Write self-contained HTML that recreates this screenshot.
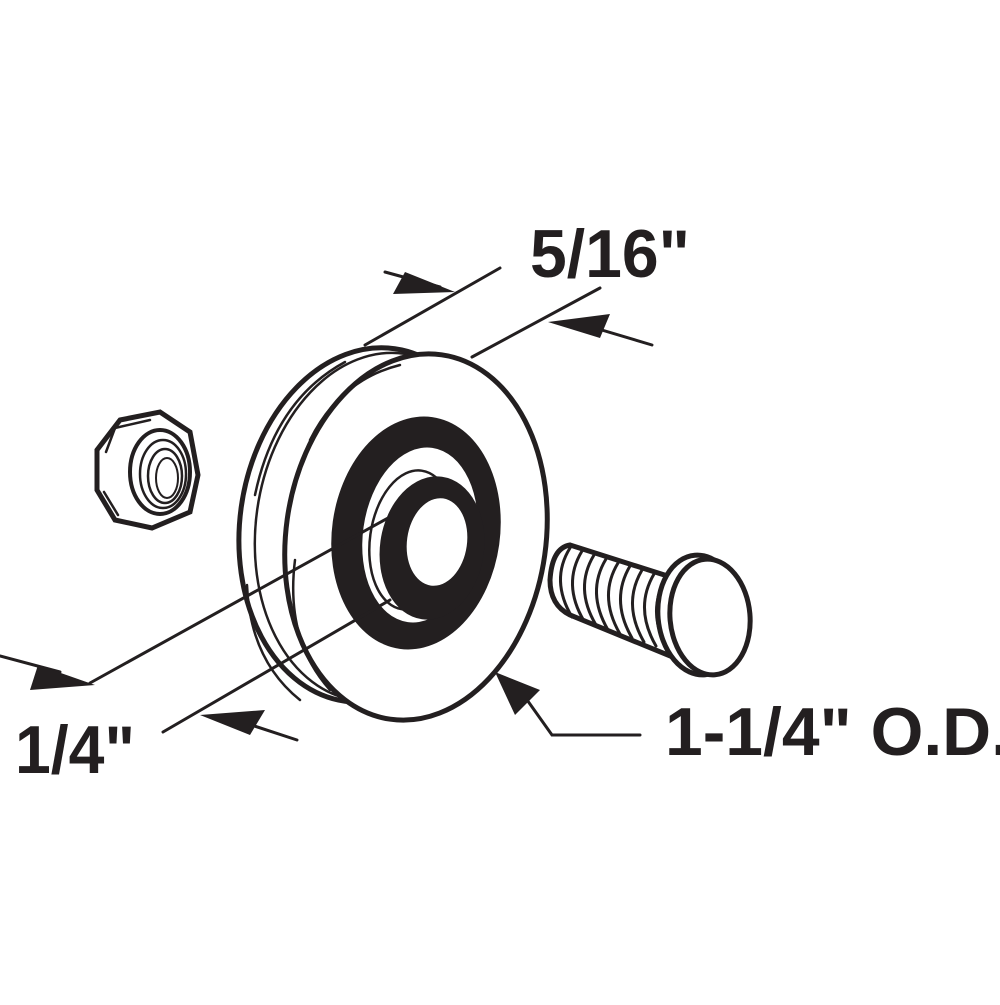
<!DOCTYPE html>
<html><head><style>html,body{margin:0;padding:0;background:#fff}</style></head>
<body>
<svg width="1000" height="1000" viewBox="0 0 1000 1000" xmlns="http://www.w3.org/2000/svg">
<rect width="1000" height="1000" fill="#fff"/>
<g fill="none" stroke="#231f20" stroke-linecap="round">
<ellipse cx="370" cy="525" rx="130" ry="178" stroke-width="5" transform="rotate(8 370 525)"/>
<ellipse cx="380" cy="527" rx="124" ry="175" stroke-width="2.5" transform="rotate(8 380 527)"/>
<ellipse cx="416" cy="537" rx="130" ry="184" fill="#fff" stroke-width="5" transform="rotate(8 416 537)"/>
<path d="M310 440 Q340 380 400 365" stroke-width="2.5"/>
<path d="M255 495 Q275 400 345 362" stroke-width="2.5"/>
<path d="M295 560 Q285 640 330 690" stroke-width="2.5"/>
<path d="M247 585 Q250 660 300 700" stroke-width="2.5"/>
<ellipse cx="416" cy="533" rx="84" ry="117" fill="#231f20" stroke="none" transform="rotate(8 416 533)"/>
<ellipse cx="420" cy="535" rx="57" ry="88" fill="#fff" stroke="none" transform="rotate(8 420 535)"/>
<ellipse cx="412" cy="540" rx="42" ry="70" stroke-width="2.5" transform="rotate(8 412 540)"/>
<ellipse cx="432" cy="548" rx="52" ry="72" fill="#231f20" stroke="none" transform="rotate(8 432 548)"/>
<ellipse cx="437" cy="542" rx="30" ry="44" fill="#fff" stroke="none" transform="rotate(8 437 542)"/>
<line x1="365" y1="345" x2="500" y2="268" stroke-width="3"/>
<line x1="472" y1="357" x2="600" y2="288" stroke-width="3"/>
<line x1="385" y1="272" x2="440" y2="287" stroke-width="3"/>
<line x1="585" y1="325" x2="652" y2="345" stroke-width="3"/>
<line x1="90" y1="683" x2="388" y2="518" stroke-width="3"/>
<line x1="163" y1="732" x2="390" y2="600" stroke-width="3"/>
<line x1="0" y1="656" x2="60" y2="672" stroke-width="3"/>
<line x1="230" y1="718" x2="297" y2="740" stroke-width="3"/>
<polyline points="520,690 552,735 640,735" stroke-width="3"/>
<polygon points="120,420 160,412 190,432 198,475 190,512 152,528 115,520 97,490 97,450" fill="#fff" stroke-width="5"/>
<polyline points="106,452 115,428 150,420" stroke-width="2.5"/>
<line x1="104" y1="492" x2="118" y2="515" stroke-width="2.5"/>
<ellipse cx="160" cy="472" rx="30" ry="42" stroke-width="4"/>
<ellipse cx="163" cy="474" rx="23" ry="34" stroke-width="2.5"/>
<ellipse cx="165" cy="476" rx="17" ry="27" stroke-width="2.5"/>
<ellipse cx="167" cy="478" rx="11" ry="20" stroke-width="2"/>
<path d="M570 545 L680 580 L680 660 L570 615 Q550 605 550 580 Q552 548 570 545 Z" fill="#fff" stroke-width="5"/>
<g stroke-width="3">
<path d="M570 548 Q550 580 572 617"/><path d="M582 551 Q562 584 584 621"/><path d="M594 555 Q574 588 596 625"/>
<path d="M606 559 Q586 592 608 630"/><path d="M618 563 Q598 596 620 634"/><path d="M630 566 Q610 600 632 638"/>
<path d="M642 570 Q622 604 644 642"/><path d="M654 574 Q634 608 656 646"/><path d="M666 578 Q646 612 668 650"/>
</g>
<ellipse cx="700" cy="615" rx="42" ry="60" fill="#fff" stroke-width="5" transform="rotate(-5 700 615)"/>
<ellipse cx="710" cy="617" rx="40" ry="58" fill="#fff" stroke-width="5" transform="rotate(-5 710 617)"/>
</g>
<g fill="#231f20">
<polygon points="455,292 393,294 405,272"/>
<polygon points="548,322 610,314 600,338"/>
<polygon points="95,685 30,690 38,665"/>
<polygon points="200,715 265,710 250,735"/>
<polygon points="495,672 540,690 515,715"/>
</g>
<g font-family="Liberation Sans, sans-serif" font-weight="bold" fill="#231f20" font-size="68">
<text x="530" y="277" textLength="160" lengthAdjust="spacingAndGlyphs">5/16"</text>
<text x="15" y="773" textLength="120" lengthAdjust="spacingAndGlyphs">1/4"</text>
<text x="665" y="755" textLength="345" lengthAdjust="spacingAndGlyphs">1-1/4" O.D.</text>
</g>
</svg>
</body></html>
